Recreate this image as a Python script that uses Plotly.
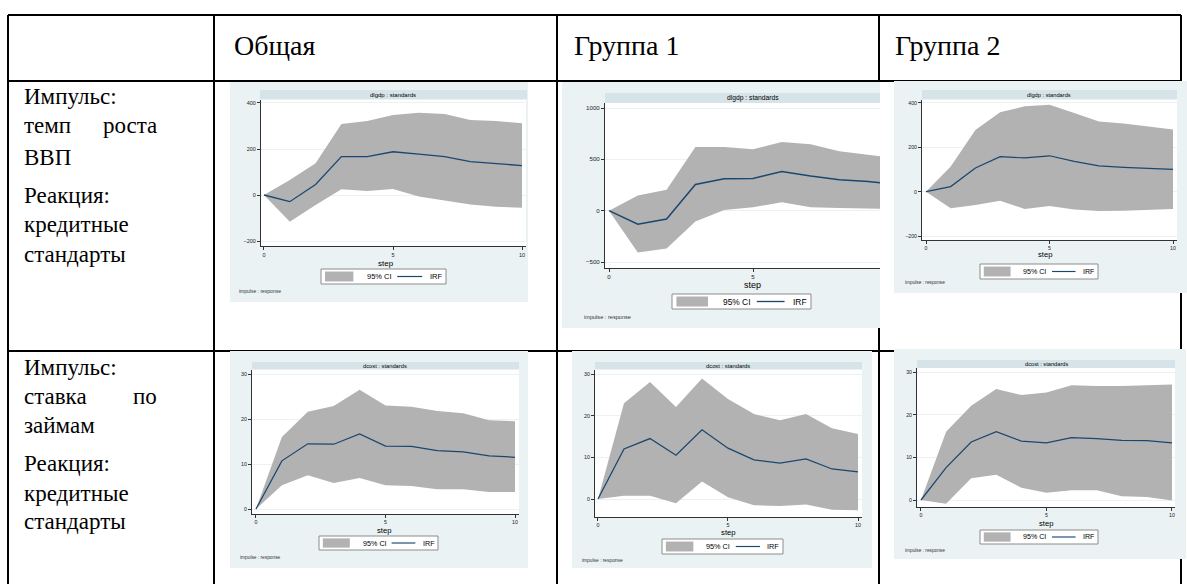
import plotly.graph_objects as go

W, H = 1187, 584

steps = list(range(11))

# Column and row headings of the table
col_titles = ["Общая", "Группа 1", "Группа 2"]
row1_lines = [("Импульс:", None), ("темп", "роста"), ("ВВП", None),
              ("Реакция:", None), ("кредитные", None), ("стандарты", None)]
row2_lines = [("Импульс:", None), ("ставка", "по"), ("займам", None),
              ("Реакция:", None), ("кредитные", None), ("стандарты", None)]

# Impulse: GDP growth -> response: credit standards
gdp_total_irf = [0, -29, 46, 167, 167, 188, 178, 167, 145, 138, 128]
gdp_total_hi = [0, 65, 138, 309, 322, 348, 358, 352, 326, 322, 312]
gdp_total_lo = [0, -116, -43, 25, 17, 26, -7, -25, -41, -51, -55]

gdp_g1_irf = [0, -131, -82, 255, 310, 314, 382, 337, 301, 284, 255]
gdp_g1_hi = [0, 147, 203, 621, 621, 598, 670, 647, 578, 546, 510]
gdp_g1_lo = [0, -408, -369, -105, 7, 33, 82, 33, 26, 23, 16]

gdp_g2_irf = [0, 23, 107, 158, 152, 162, 137, 116, 110, 105, 101]
gdp_g2_hi = [0, 113, 278, 358, 385, 392, 355, 316, 308, 295, 280]
gdp_g2_lo = [0, -75, -60, -41, -78, -65, -80, -87, -86, -81, -78]

# Impulse: loan rate -> response: credit standards
cost_total_irf = [0, 10.7, 14.5, 14.4, 16.7, 14.0, 13.9, 13.0, 12.7, 11.8, 11.5]
cost_total_hi = [0, 16.0, 21.6, 22.9, 26.5, 23.0, 22.7, 21.8, 21.3, 19.7, 19.5]
cost_total_lo = [0, 5.3, 7.5, 5.8, 6.9, 5.3, 5.1, 4.4, 4.4, 3.8, 3.8]

cost_g1_irf = [0, 12.0, 14.5, 10.5, 16.6, 12.2, 9.4, 8.6, 9.6, 7.2, 6.5]
cost_g1_hi = [0, 23.0, 28.1, 22.1, 28.9, 24.0, 20.4, 18.9, 20.4, 17.0, 15.6]
cost_g1_lo = [0, 0.8, 0.8, -1.0, 4.2, 0.4, -1.5, -1.7, -1.3, -2.6, -2.7]

cost_g2_irf = [0, 7.6, 13.6, 16.0, 13.8, 13.4, 14.6, 14.4, 14.0, 13.9, 13.4]
cost_g2_hi = [0, 16.0, 22.1, 26.0, 24.6, 25.2, 26.9, 26.7, 26.7, 26.9, 27.1]
cost_g2_lo = [0, -0.9, 5.1, 5.9, 2.9, 1.7, 2.3, 2.3, 0.9, 0.7, -0.1]

gdp_ticks = [-200, 0, 200, 400]
gdp_g1_ticks = [-500, 0, 500, 1000]
cost_ticks = [0, 10, 20, 30]
step_ticks = [0, 5, 10]

BG = "#eaf2f3"
BAND = "#d6e4ea"
CI = "#b2b2b2"
NAVY = "#1a476f"
SANS = "'Liberation Sans', Arial, sans-serif"
SERIF = "'Liberation Serif', 'Times New Roman', serif"


def fx(x):
    return x / W


def fy(y):
    return 1 - y / H


panels = [
    dict(irf=gdp_total_irf, hi=gdp_total_hi, lo=gdp_total_lo, title="dlgdp : standards",
         box=(230, 82, 528, 302), band=(260, 90, 527, 99), plot=(261, 100, 526, 246),
         xr=[-0.116, 10.155], yr=[-221.7, 413], yt=gdp_ticks, tcx=393,
         step=(386, 263), leg=(321, 269, 446, 284), imp=(237, 291), s=1.0),
    dict(irf=gdp_g1_irf, hi=gdp_g1_hi, lo=gdp_g1_lo, title="dlgdp : standards",
         box=(562, 82, 880, 328), band=(605, 93, 880, 103), plot=(605, 103, 880, 268),
         xr=[-0.139, 9.41], yr=[-558.4, 1048.7], yt=gdp_g1_ticks, tcx=753,
         step=(752, 285), leg=(672, 294, 811, 309), imp=(582, 317), s=1.12),
    dict(irf=gdp_g2_irf, hi=gdp_g2_hi, lo=gdp_g2_lo, title="dlgdp : standards",
         box=(894, 81, 1187, 293), band=(922, 90, 1177, 99), plot=(922, 100, 1177, 240),
         xr=[-0.162, 10.162], yr=[-218, 413.5], yt=gdp_ticks, tcx=1049,
         step=(1045, 254), leg=(980, 264, 1098, 279), imp=(903, 282), s=0.95),
    dict(irf=cost_total_irf, hi=cost_total_hi, lo=cost_total_lo, title="dcost : standards",
         box=(230, 351, 528, 568), band=(252, 362, 519, 369), plot=(252, 370, 519, 514),
         xr=[-0.154, 10.154], yr=[-1.11, 30.89], yt=cost_ticks, tcx=385,
         step=(384, 530), leg=(319, 536, 438, 550), imp=(238, 557), s=0.96),
    dict(irf=cost_g1_irf, hi=cost_g1_hi, lo=cost_g1_lo, title="dcost : standards",
         box=(572, 351, 872, 568), band=(595, 362, 862, 369), plot=(595, 370, 862, 517),
         xr=[-0.115, 10.154], yr=[-4.32, 30.96], yt=cost_ticks, tcx=728,
         step=(728, 532), leg=(662, 539, 783, 554), imp=(580, 560), s=0.97),
    dict(irf=cost_g2_irf, hi=cost_g2_hi, lo=cost_g2_lo, title="dcost : standards",
         box=(894, 349, 1186, 559), band=(917, 360, 1175, 368), plot=(917, 368, 1175, 507),
         xr=[-0.159, 10.12], yr=[-1.64, 30.94], yt=cost_ticks, tcx=1046,
         step=(1046, 523), leg=(980, 530, 1098, 544), imp=(903, 550), s=0.95),
]

fig = go.Figure()
shapes = []
annotations = []


def rect(x0, y0, x1, y1, fill, line=None, lw=0):
    shapes.append(dict(type="rect", xref="paper", yref="paper", layer="below",
                       x0=fx(x0), x1=fx(x1), y0=fy(y1), y1=fy(y0),
                       fillcolor=fill, line=dict(color=line or fill, width=lw)))


def hline(x0, x1, y, color="black", lw=2):
    shapes.append(dict(type="line", xref="paper", yref="paper", layer="below",
                       x0=fx(x0), x1=fx(x1), y0=fy(y), y1=fy(y),
                       line=dict(color=color, width=lw)))


def vline(x, y0, y1, color="black", lw=2):
    shapes.append(dict(type="line", xref="paper", yref="paper", layer="below",
                       x0=fx(x), x1=fx(x), y0=fy(y0), y1=fy(y1),
                       line=dict(color=color, width=lw)))


def text(x, y, s, size, family=SANS, anchor="left", color="black"):
    annotations.append(dict(x=fx(x), y=fy(y), xref="paper", yref="paper", text=s,
                            showarrow=False, xanchor=anchor, yanchor="middle",
                            font=dict(family=family, size=size, color=color)))


# Table grid
hline(8, 1181, 15)
hline(8, 1181, 81)
hline(8, 1181, 351)
for xv in (8, 214, 557, 879, 1181):
    vline(xv, 15, 584)

# Header row
for xpos, t in zip((232, 572, 893), col_titles):
    text(xpos, 46, t, 28, SERIF)

# Row headings (justified lines get their last word flush right)
for lines, ys in ((row1_lines, (96, 126, 157, 195, 225, 254)),
                  (row2_lines, (367, 396, 425, 463, 493, 521))):
    for (left, right), yv in zip(lines, ys):
        text(22, yv, left, 23, SERIF)
        if right:
            text(159, yv, right, 23, SERIF, anchor="right")

# Impulse-response panels
for i, p in enumerate(panels, start=1):
    xa = "x" if i == 1 else f"x{i}"
    ya = "y" if i == 1 else f"y{i}"
    s = p["s"]
    rect(*p["box"], BG)
    rect(*p["band"], BAND)
    px0, py0, px1, py1 = p["plot"]
    rect(px0, py0, px1, py1, "white")
    text(p["tcx"], (p["band"][1] + p["band"][3]) / 2, p["title"], 6 * s, anchor="center")

    fig.add_trace(go.Scatter(x=steps, y=p["lo"], mode="lines", line=dict(width=0, color=CI),
                             xaxis=xa, yaxis=ya, hoverinfo="skip"))
    fig.add_trace(go.Scatter(x=steps, y=p["hi"], mode="lines", line=dict(width=0, color=CI),
                             fill="tonexty", fillcolor=CI, xaxis=xa, yaxis=ya, hoverinfo="skip"))
    fig.add_trace(go.Scatter(x=steps, y=p["irf"], mode="lines", line=dict(width=1.3 * s, color=NAVY),
                             xaxis=xa, yaxis=ya))

    common = dict(showline=True, linecolor="#333333", linewidth=1, ticks="outside",
                  ticklen=3, tickwidth=1, tickcolor="#333333", zeroline=False,
                  tickfont=dict(family=SANS, size=5.5 * s, color="#222222"))
    fig.layout[f"xaxis{'' if i == 1 else i}"] = dict(
        domain=[fx(px0), fx(px1)], range=p["xr"], anchor=ya, tickvals=step_ticks,
        showgrid=False, fixedrange=True, **common)
    fig.layout[f"yaxis{'' if i == 1 else i}"] = dict(
        domain=[fy(py1), fy(py0)], range=p["yr"], anchor=xa, tickvals=p["yt"],
        showgrid=True, gridcolor=BG, gridwidth=1, fixedrange=True, **common)

    text(p["step"][0], p["step"][1], "step", 8 * s, anchor="center")
    lx0, ly0, lx1, ly1 = p["leg"]
    lw_ = lx1 - lx0
    lh = ly1 - ly0
    ymid = (ly0 + ly1) / 2
    rect(lx0, ly0, lx1, ly1, "white", "#8c8c8c", 1)
    rect(lx0 + 0.032 * lw_, ly0 + 0.17 * lh, lx0 + 0.259 * lw_, ly1 - 0.17 * lh, CI)
    text(lx0 + 0.35 * lw_, ymid, "95% CI", 7.5 * s)
    shapes.append(dict(type="line", xref="paper", yref="paper", layer="below",
                       x0=fx(lx0 + 0.61 * lw_), x1=fx(lx0 + 0.81 * lw_),
                       y0=fy(ymid), y1=fy(ymid),
                       line=dict(color=NAVY, width=1.2 * s)))
    text(lx0 + 0.855 * lw_, ymid, "IRF", 7.5 * s)
    text(p["imp"][0], p["imp"][1], "impulse : response", 5 * s, color="#333333")

fig.update_layout(
    width=W, height=H, autosize=False,
    margin=dict(l=0, r=0, t=0, b=0),
    paper_bgcolor="white", plot_bgcolor="rgba(0,0,0,0)",
    showlegend=False, shapes=shapes, annotations=annotations,
    hovermode=False,
)

fig.write_html("out.html", config={"displayModeBar": False, "staticPlot": True})
